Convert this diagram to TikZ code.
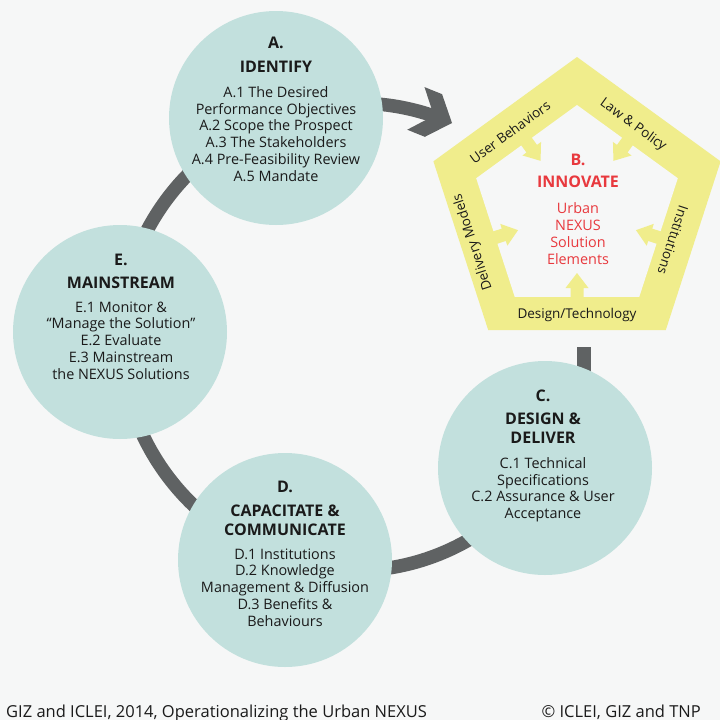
\documentclass[tikz,border=0pt]{standalone}
\usepackage{fontspec}
\setmainfont{Open Sans}
\usetikzlibrary{calc,shapes.geometric}
\definecolor{bgc}{RGB}{246,247,247}
\definecolor{stagec}{RGB}{194,224,221}
\definecolor{penta}{RGB}{240,237,140}
\definecolor{ringc}{RGB}{95,98,99}
\definecolor{redc}{RGB}{232,57,62}
\definecolor{txtc}{RGB}{26,26,26}
\pgfdeclarelayer{bg}
\pgfdeclarelayer{conn}
\pgfsetlayers{bg,conn,main}
\tikzset{
  stage/.style={circle, fill=stagec, minimum size=214pt, inner sep=0pt, outer sep=0pt},
  ring/.style={draw=ringc, line width=13.5pt},
  lettr/.style={font=\fontsize{16}{19}\selectfont\bfseries, text=txtc, align=center, inner sep=0pt},
  itemsty/.style={font=\fontsize{14.4}{16.75}\selectfont, text=txtc, align=center, inner sep=0pt},
  pentlabel/.style={font=\fontsize{13.5}{16}\selectfont, text=txtc, inner sep=0pt},
  redtitle/.style={font=\fontsize{16}{19}\selectfont\bfseries, text=redc, align=center, inner sep=0pt},
  reditem/.style={font=\fontsize{14.4}{17}\selectfont, text=redc, align=center, inner sep=0pt},
  foot/.style={font=\fontsize{16.5}{19}\selectfont, text=txtc, inner sep=0pt},
  pent/.style={regular polygon, regular polygon sides=5, inner sep=0pt, outer sep=0pt}
}
\begin{document}
\begin{tikzpicture}[x=1pt,y=-1pt]
\useasboundingbox (0,0) rectangle (720,720);
\begin{pgfonlayer}{bg}
\fill[bgc] (0,0) rectangle (720,720);
\end{pgfonlayer}

% pentagon B
\node[pent, minimum size=302pt, fill=penta] (B) at (577,208) {};
\node[pent, minimum size=212pt, fill=bgc] (Bin) at (577,211) {};
\foreach \ph in {90,162,234,306,18}{
  \begin{scope}[shift={($(Bin.center)+(\ph:62)$)}, rotate={-(\ph+180)}]
    \fill[penta] (0,0) -- (-15,-11.5) -- (-15,-6.5) -- (-34,-6.5) -- (-34,6.5) -- (-15,6.5) -- (-15,11.5) -- cycle;
  \end{scope}
}
\node[pentlabel, rotate=36] (lub) at (510,132) {User Behaviors};
\node[pentlabel, rotate=-36] (llp) at (633,125) {Law \& Policy};
\node[pentlabel, rotate=-108] (lin) at (673,240) {Institutions};
\node[pentlabel, rotate=108] (ldm) at (473,242) {Delivery Models};
\node[pentlabel] (ldt) at (577,315) {Design/Technology};
\node[redtitle] (Bl) at (578,160) {B.};
\node[redtitle] (Bt) at (578,182) {INNOVATE};
\node[reditem] (Bi) at (578,233.5) {Urban\\NEXUS\\Solution\\Elements};

% stages
\node[stage] (A) at (276,118) {};
\node[stage] (C) at (545,468) {};
\node[stage] (D) at (285,560) {};
\node[stage] (E) at (120,332) {};

\coordinate (headB) at (452,123);
\coordinate (AtoB) at ($(headB)+(202:10)$);
\coordinate (Bout) at (584,347);

\begin{pgfonlayer}{conn}
\draw[ring] (A.center) to[bend left=21, looseness=0.88] (AtoB);
\draw[ring] (Bout) -- (Bout |- C.center);
\draw[ring] (C.center) to[bend left=37, looseness=0.95] (D.center);
\draw[ring] (D.center) to[bend left=36, looseness=0.95] (E.center);
\draw[ring] (E.center) to[bend left=34, looseness=0.93] (A.center);
\end{pgfonlayer}
\begin{scope}[shift={(headB)}, rotate=-22]
  \fill[ringc] (0,0) -- (-20,-23) -- (-39,-23) -- (-19.5,0) -- (-39,23) -- (-20,23) -- cycle;
\end{scope}

% texts
\node[lettr] (Al) at (276,43) {A.};
\node[lettr] (At) at (276,67) {IDENTIFY};
\node[itemsty] (Ai) at (276,134) {A.1 The Desired\\Performance Objectives\\A.2 Scope the Prospect\\A.3 The Stakeholders\\A.4 Pre-Feasibility Review\\A.5 Mandate};

\node[lettr] (Cl) at (543,396) {C.};
\node[lettr] (Ct) at (543,428.5) {DESIGN \&\\DELIVER};
\node[itemsty] (Ci) at (543,489.7) {C.1 Technical\\Specifications\\C.2 Assurance \& User\\Acceptance};

\node[lettr] (Dl) at (285,487) {D.};
\node[lettr] (Dt) at (285,520.5) {CAPACITATE \&\\COMMUNICATE};
\node[itemsty] (Di) at (285,587.5) {D.1 Institutions\\D.2 Knowledge\\Management \& Diffusion\\D.3 Benefits \&\\Behaviours};

\node[lettr] (El) at (121,260) {E.};
\node[lettr] (Et) at (121,283) {MAINSTREAM};
\node[itemsty] (Ei) at (121,340.5) {E.1 Monitor \&\\“Manage the Solution”\\E.2 Evaluate\\E.3 Mainstream\\the NEXUS Solutions};

\node[foot, anchor=base west] (f1) at (6,717) {GIZ and ICLEI, 2014, Operationalizing the Urban NEXUS};
\node[foot, anchor=base east] (f2) at (701,717) {© ICLEI, GIZ and TNP};
\end{tikzpicture}
\end{document}
